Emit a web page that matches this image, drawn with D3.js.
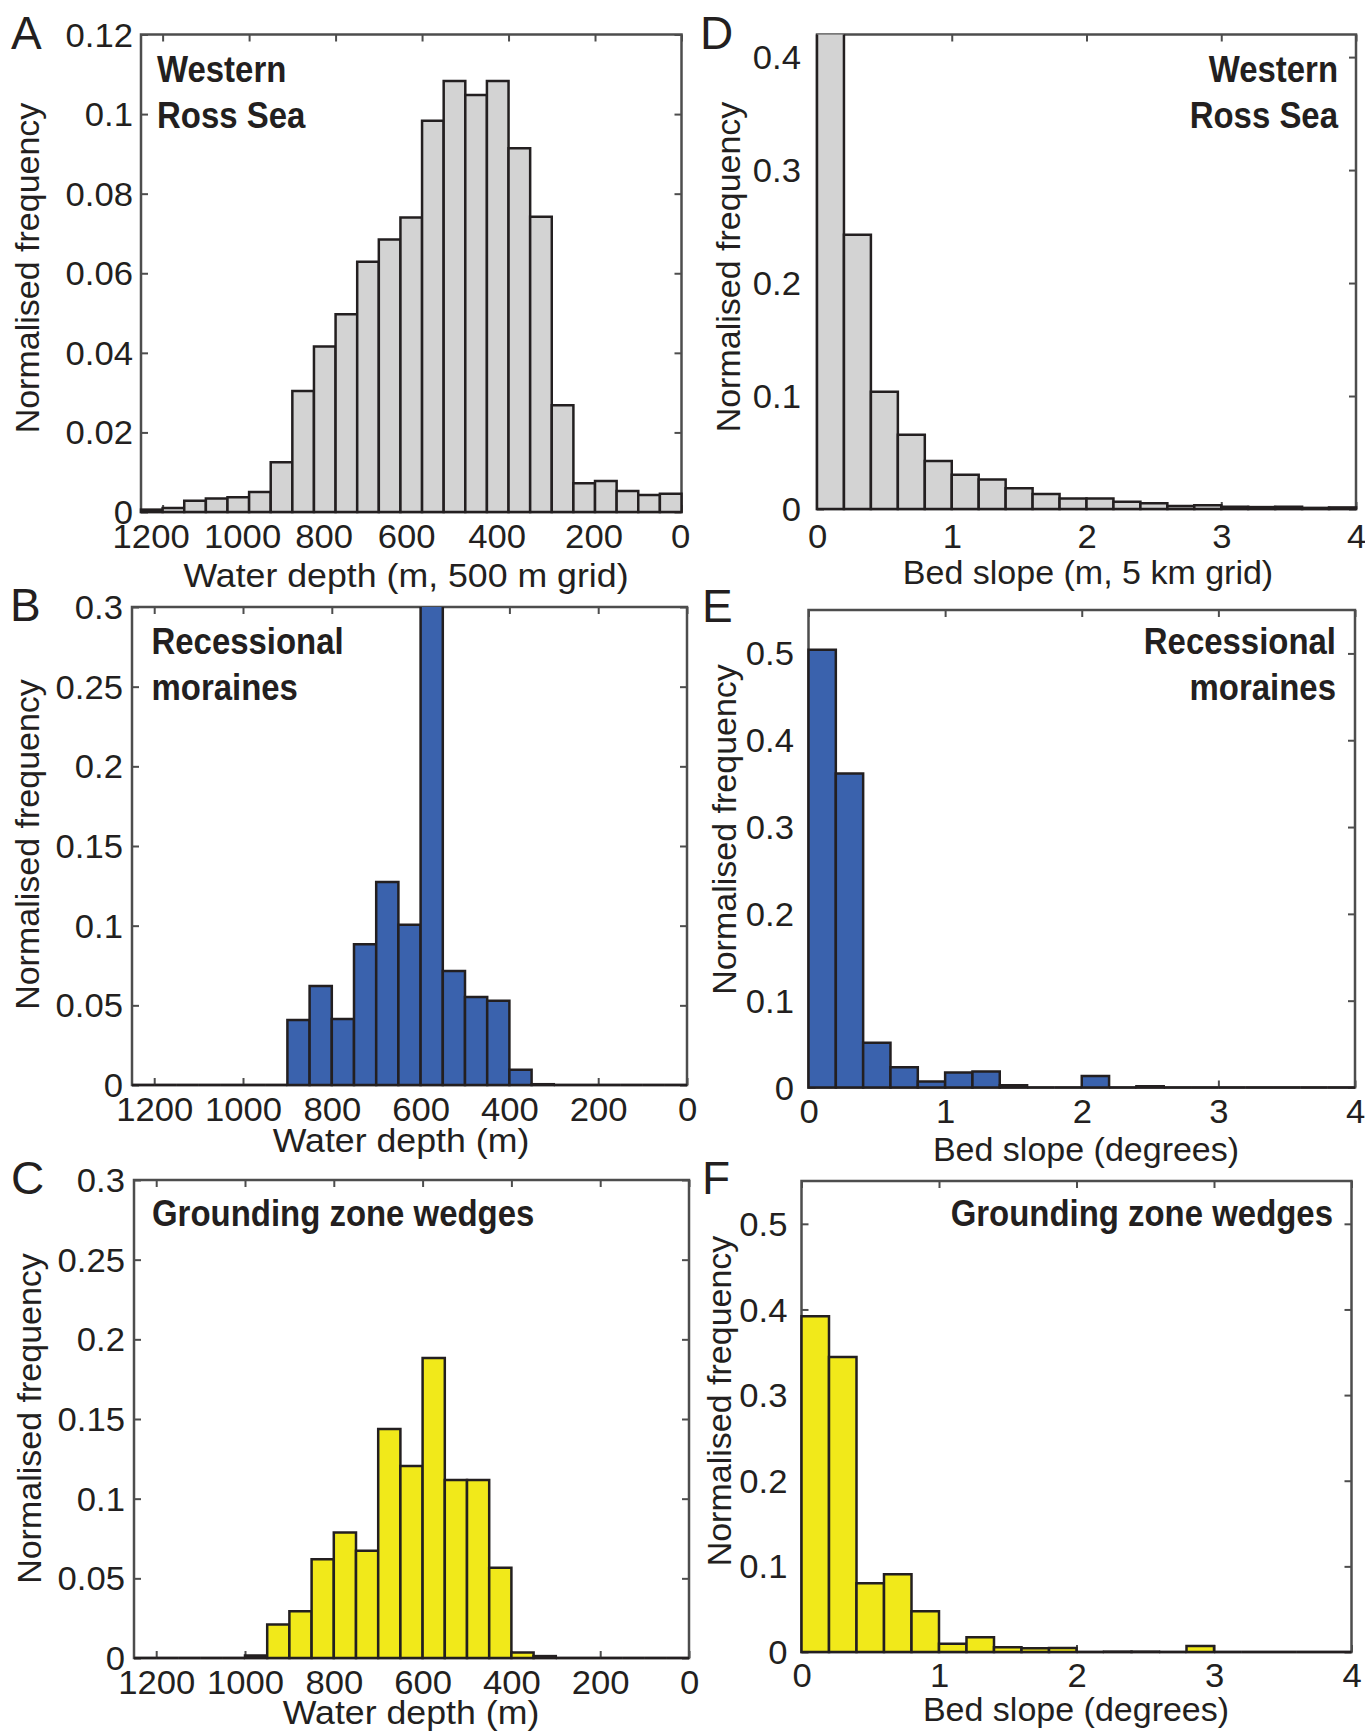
<!DOCTYPE html>
<html>
<head>
<meta charset="utf-8">
<script src="https://cdn.jsdelivr.net/npm/d3@7"></script>
<style>
  html, body { margin: 0; padding: 0; background: #fff; }
  svg { display: block; }
  text { font-family: "Liberation Sans", Arial, Helvetica, sans-serif; fill: #231f20; }
</style>
</head>
<body>
<script>
// ---------------- DATA ----------------
// Water-depth bins (deeper edge of each 50 m bin, m)
const depthBinDeep = [1250, 1200, 1150, 1100, 1050, 1000, 950, 900, 850, 800, 750, 700, 650,
                      600, 550, 500, 450, 400, 350, 300, 250, 200, 150, 100, 50];
const depthBinWidth = 50;
// Bed-slope bins (lower edge of each 0.2 bin)
const slopeBinLow = [0, 0.2, 0.4, 0.6, 0.8, 1.0, 1.2, 1.4, 1.6, 1.8,
                     2.0, 2.2, 2.4, 2.6, 2.8, 3.0, 3.2, 3.4, 3.6, 3.8];
const slopeBinWidth = 0.2;

// A: Western Ross Sea, water depth
const rossDepth = [0.0006, 0.001, 0.0028, 0.0034, 0.0037, 0.005, 0.0125, 0.0304, 0.0416, 0.0497,
                   0.0629, 0.0685, 0.074, 0.0983, 0.1083, 0.1048, 0.1083, 0.0914, 0.0742, 0.0268,
                   0.0072, 0.0078, 0.0053, 0.0043, 0.0046];
// B: Recessional moraines, water depth
const moraineDepth = [0, 0, 0, 0, 0, 0, 0, 0.0408, 0.0622, 0.0415, 0.0884, 0.1274, 0.1005,
                      0.35, 0.0715, 0.0552, 0.0529, 0.0095, 0.0005, 0, 0, 0, 0, 0, 0];
// C: Grounding zone wedges, water depth
const gzwDepth = [0, 0, 0, 0, 0, 0.0016, 0.0211, 0.0293, 0.062, 0.0787, 0.0673, 0.1437, 0.1205,
                  0.1883, 0.1117, 0.1117, 0.0567, 0.0035, 0.0012, 0, 0, 0, 0, 0, 0];
// D: Western Ross Sea, bed slope
const rossSlope = [0.43, 0.2427, 0.1038, 0.0657, 0.0425, 0.0303, 0.0262, 0.0184, 0.0133, 0.0092,
                   0.0092, 0.0065, 0.0051, 0.0027, 0.0034, 0.002, 0.0017, 0.002, 0.001, 0.0014];
// E: Recessional moraines, bed slope
const moraineSlope = [0.5043, 0.3617, 0.0515, 0.0234, 0.0068, 0.0174, 0.0183, 0.0026, 0, 0,
                      0.0132, 0, 0.0015, 0, 0, 0, 0, 0, 0, 0];
// F: Grounding zone wedges, bed slope
const gzwSlope = [0.392, 0.3444, 0.0804, 0.0908, 0.0475, 0.0095, 0.0173, 0.0056, 0.0043, 0.0048,
                  0, 0.0004, 0.0004, 0, 0.0069, 0, 0, 0, 0, 0];

// Ticks
const depthTicks = [1200, 1000, 800, 600, 400, 200, 0];
const depthTickLabels = ["1200", "1000", "800", "600", "400", "200", "0"];
const slopeTicks = [0, 1, 2, 3, 4];
const slopeTickLabels = ["0", "1", "2", "3", "4"];
const yTicksA = [0, 0.02, 0.04, 0.06, 0.08, 0.1, 0.12];
const yTickLabelsA = ["0", "0.02", "0.04", "0.06", "0.08", "0.1", "0.12"];
const yTicksBC = [0, 0.05, 0.1, 0.15, 0.2, 0.25, 0.3];
const yTickLabelsBC = ["0", "0.05", "0.1", "0.15", "0.2", "0.25", "0.3"];
const yTicksD = [0, 0.1, 0.2, 0.3, 0.4];
const yTickLabelsD = ["0", "0.1", "0.2", "0.3", "0.4"];
const yTicksEF = [0, 0.1, 0.2, 0.3, 0.4, 0.5];
const yTickLabelsEF = ["0", "0.1", "0.2", "0.3", "0.4", "0.5"];

// Text
const yLabelText = "Normalised frequency";
const colours = { grey: "#d3d3d3", blue: "#3a62ad", yellow: "#f1e91a" };

// ---------------- LAYOUT ----------------
const panels = [
  { letter: "A", lx: 11, ly: 48.5,
    box: { l: 141, t: 34.5, r: 681.5, b: 512 },
    kind: "depth", values: rossDepth, xDomain: [1250, 0], yDomain: [0, 0.12],
    yTicks: yTicksA, yTickLabels: yTickLabelsA, fill: colours.grey,
    xTickShift: [-12, -7, -12, -16, -12, -1.5, -1.5], xTickBase: 36, yTickGap: 8,
    xLabel: "Water depth (m, 500 m grid)", xlx: 406, xly: 586.5, xStretch: 1.05,
    ylx: 38.5, yly: 268,
    title: ["Western", "Ross Sea"], tAnchor: "start", tx: 157, ty: [81.7, 127.5] },
  { letter: "D", lx: 700, ly: 48.5,
    box: { l: 817, t: 34.5, r: 1356, b: 509 },
    kind: "slope", values: rossSlope, xDomain: [0, 4], yDomain: [0, 0.42],
    yTicks: yTicksD, yTickLabels: yTickLabelsD, fill: colours.grey,
    xTickShift: null, xTickBase: 39, yTickGap: 16,
    xLabel: "Bed slope (m, 5 km grid)", xlx: 1088, xly: 584, xStretch: 1.0,
    ylx: 740, yly: 267,
    title: ["Western", "Ross Sea"], tAnchor: "end", tx: 1338, ty: [82.3, 128.2] },
  { letter: "B", lx: 10, ly: 621,
    box: { l: 132, t: 607, r: 687, b: 1085 },
    kind: "depth", values: moraineDepth, xDomain: [1250, 0], yDomain: [0, 0.3],
    yTicks: yTicksBC, yTickLabels: yTickLabelsBC, fill: colours.blue,
    xTickShift: null, xTickBase: 36, yTickGap: 9,
    xLabel: "Water depth (m)", xlx: 401, xly: 1151.5, xStretch: 1.05,
    ylx: 38.5, yly: 844.5,
    title: ["Recessional", "moraines"], tAnchor: "start", tx: 151.5, ty: [654, 700] },
  { letter: "E", lx: 702, ly: 622,
    box: { l: 808.5, t: 610, r: 1355, b: 1087.5 },
    kind: "slope", values: moraineSlope, xDomain: [0, 4], yDomain: [0, 0.55],
    yTicks: yTicksEF, yTickLabels: yTickLabelsEF, fill: colours.blue,
    xTickShift: null, xTickBase: 35, yTickGap: 14.5,
    xLabel: "Bed slope (degrees)", xlx: 1086, xly: 1161, xStretch: 1.0,
    ylx: 736, yly: 829.5,
    title: ["Recessional", "moraines"], tAnchor: "end", tx: 1336, ty: [654, 700] },
  { letter: "C", lx: 11, ly: 1194,
    box: { l: 134, t: 1180, r: 689, b: 1658 },
    kind: "depth", values: gzwDepth, xDomain: [1250, 0], yDomain: [0, 0.3],
    yTicks: yTicksBC, yTickLabels: yTickLabelsBC, fill: colours.yellow,
    xTickShift: null, xTickBase: 36, yTickGap: 9,
    xLabel: "Water depth (m)", xlx: 411, xly: 1724, xStretch: 1.05,
    ylx: 41, yly: 1418.5,
    title: ["Grounding zone wedges"], tAnchor: "start", tx: 152, ty: [1226] },
  { letter: "F", lx: 702, ly: 1194,
    box: { l: 801.5, t: 1181, r: 1351.5, b: 1652 },
    kind: "slope", values: gzwSlope, xDomain: [0, 4], yDomain: [0, 0.55],
    yTicks: yTicksEF, yTickLabels: yTickLabelsEF, fill: colours.yellow,
    xTickShift: null, xTickBase: 35, yTickGap: 14,
    xLabel: "Bed slope (degrees)", xlx: 1076, xly: 1721, xStretch: 1.0,
    ylx: 730.5, yly: 1401,
    title: ["Grounding zone wedges"], tAnchor: "end", tx: 1333, ty: [1226] }
];

const W = 1365, H = 1734;
const tickFont = 33, labelFont = 34, letterFont = 46, titleFont = 37;
const tickStretch = 1.05;
const axisColor = "#4d4d4d", edgeColor = "#231f20";
const tickLen = 7;

const svg = d3.select("body").append("svg")
  .attr("width", W).attr("height", H)
  .attr("viewBox", `0 0 ${W} ${H}`);
svg.append("rect").attr("width", W).attr("height", H).attr("fill", "#fff");
const defs = svg.append("defs");

function stretch(sel, factor) {
  sel.each(function () {
    const len = this.getComputedTextLength();
    d3.select(this).attr("textLength", len * factor).attr("lengthAdjust", "spacingAndGlyphs");
  });
}

panels.forEach((p, i) => {
  const g = svg.append("g").attr("class", "panel-" + p.letter);
  const b = p.box;
  const x = d3.scaleLinear().domain(p.xDomain).range([b.l, b.r]);
  const y = d3.scaleLinear().domain(p.yDomain).range([b.b, b.t]);

  // bins
  let bins;
  if (p.kind === "depth") {
    bins = depthBinDeep.map((d, k) => ({ x0: d, x1: d - depthBinWidth, v: p.values[k] }));
  } else {
    bins = slopeBinLow.map((s, k) => ({ x0: s, x1: s + slopeBinWidth, v: p.values[k] }));
  }

  // clip
  const cid = "clip" + i;
  defs.append("clipPath").attr("id", cid).append("rect")
    .attr("x", b.l - 3).attr("y", b.t).attr("width", b.r - b.l + 6).attr("height", b.b - b.t + 3);

  // box
  g.append("rect")
    .attr("x", b.l).attr("y", b.t).attr("width", b.r - b.l).attr("height", b.b - b.t)
    .attr("fill", "none").attr("stroke", axisColor).attr("stroke-width", 2.5);

  const styleAxis = sel => {
    sel.select(".domain").remove();
    sel.selectAll(".tick line").attr("stroke", axisColor).attr("stroke-width", 2);
  };
  const xTickVals = p.kind === "depth" ? depthTicks : slopeTicks;
  const xTickLbls = p.kind === "depth" ? depthTickLabels : slopeTickLabels;

  const xa = g.append("g").attr("transform", `translate(0,${b.b})`)
    .call(d3.axisBottom(x).tickValues(xTickVals)
      .tickSizeInner(-tickLen).tickSizeOuter(0)
      .tickFormat((d, k) => xTickLbls[k]))
    .call(styleAxis);
  xa.selectAll(".tick text")
    .attr("y", p.xTickBase).attr("dy", null)
    .attr("x", (d, k) => p.xTickShift ? p.xTickShift[k] : 0)
    .attr("font-size", tickFont).attr("font-family", null).style("fill", "#231f20")
    .call(stretch, tickStretch);
  g.append("g").attr("transform", `translate(0,${b.t})`)
    .call(d3.axisTop(x).tickValues(xTickVals)
      .tickSizeInner(-tickLen).tickSizeOuter(0).tickFormat(""))
    .call(styleAxis);
  const ya = g.append("g").attr("transform", `translate(${b.l},0)`)
    .call(d3.axisLeft(y).tickValues(p.yTicks)
      .tickSizeInner(-tickLen).tickSizeOuter(0)
      .tickFormat((d, k) => p.yTickLabels[k]))
    .call(styleAxis);
  ya.selectAll(".tick text")
    .attr("x", -p.yTickGap).attr("dy", "0.35em")
    .attr("font-size", tickFont).attr("font-family", null).style("fill", "#231f20")
    .call(stretch, tickStretch);
  g.append("g").attr("transform", `translate(${b.r},0)`)
    .call(d3.axisRight(y).tickValues(p.yTicks)
      .tickSizeInner(-tickLen).tickSizeOuter(0).tickFormat(""))
    .call(styleAxis);

  // bars
  g.append("g").attr("clip-path", `url(#${cid})`)
    .selectAll("path").data(bins).join("path")
    .attr("d", d => {
      const xa0 = x(d.x0), xa1 = x(d.x1), y0 = y(0), y1 = y(d.v);
      return `M${xa0},${y0}V${y1}H${xa1}V${y0}Z`;
    })
    .attr("fill", p.fill)
    .attr("stroke", edgeColor).attr("stroke-width", 2.5)
    .attr("stroke-linejoin", "miter");

  // panel letter
  svg.append("text").attr("x", p.lx).attr("y", p.ly)
    .attr("font-size", letterFont).text(p.letter);

  // x label
  svg.append("text").attr("x", p.xlx).attr("y", p.xly)
    .attr("text-anchor", "middle").attr("font-size", labelFont).text(p.xLabel)
    .call(stretch, p.xStretch);

  // y label
  svg.append("text")
    .attr("transform", `translate(${p.ylx},${p.yly}) rotate(-90)`)
    .attr("text-anchor", "middle").attr("font-size", labelFont).text(yLabelText);

  // title (bold, condensed)
  p.title.forEach((t, k) => {
    svg.append("text").attr("x", p.tx).attr("y", p.ty[k])
      .attr("text-anchor", p.tAnchor).attr("font-size", titleFont)
      .attr("font-weight", "bold").text(t)
      .call(stretch, 0.89);
  });
});
</script>
</body>
</html>
